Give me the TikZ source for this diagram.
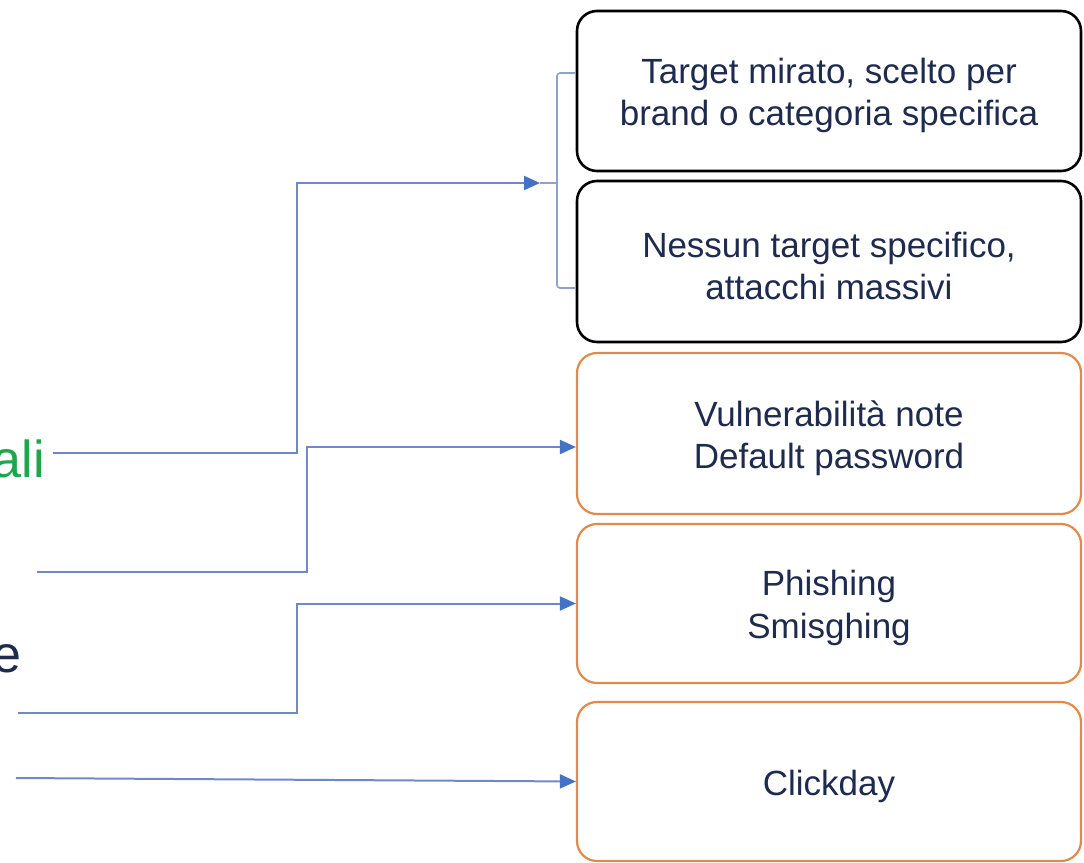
\documentclass[tikz,border=0pt]{standalone}
\usepackage{fontspec}
\setmainfont{Liberation Sans}
\usetikzlibrary{arrows.meta}
\definecolor{navy}{HTML}{1E2A4E}
\definecolor{linkblue}{HTML}{7088C4}
\definecolor{tipblue}{HTML}{4472C4}
\definecolor{boxorange}{HTML}{E08A4C}
\definecolor{leafgreen}{HTML}{1EA64C}
\definecolor{bracegray}{HTML}{8FA2C9}
\begin{document}
\begin{tikzpicture}[x=1pt,y=-1pt,
  card/.style={draw, rounded corners=20pt, minimum width=504pt, inner sep=0pt},
  darkcard/.style={card, draw=black, line width=2.6pt},
  orangecard/.style={card, draw=boxorange, line width=2.2pt},
  cardtext/.style={align=center, font=\fontsize{35}{42.5}\selectfont,
    text=navy, inner sep=0pt, yshift=-4.5pt},
  link/.style={draw=linkblue, line width=2pt,
    -{Triangle[length=16pt,width=14pt,color=tipblue]}},
  side/.style={inner sep=0pt, font=\fontsize{52}{60}\selectfont, anchor=base east}]
\useasboundingbox (0,0) rectangle (1084,862);
\clip (0,0) rectangle (1084,862);

% option boxes
\node[darkcard, minimum height=160pt] (b1) at (829,91) {};
\node[darkcard, minimum height=161pt] (b2) at (829,261.5) {};
\node[orangecard, minimum height=161pt] (b3) at (829,433.5) {};
\node[orangecard, minimum height=159pt] (b4) at (829,603.5) {};
\node[orangecard, minimum height=159pt] (b5) at (829,781.5) {};

% box captions
\node[cardtext] (t1) at (b1) {Target mirato, scelto per\\brand o categoria specifica};
\node[cardtext] (t2) at (b2) {Nessun target specifico,\\attacchi massivi};
\node[cardtext] (t3) at (b3) {Vulnerabilità note\\Default password};
\node[cardtext] (t4) at (b4) {Phishing\\Smisghing};
\node[cardtext] (t5) at (b5) {Clickday};

% labels on the left
\node[side, text=leafgreen] (l1) at (45,477) {ali};
\node[side, text=navy] (l2) at (22,672) {e};

% brace grouping the two black boxes
\coordinate (nib) at (540,183);
\draw[bracegray, line width=1.6pt, rounded corners=3pt]
  (575,73) -- (557,73) -- (557,288) -- (575,288);
\draw[bracegray, line width=1.6pt] (557,183) -- (nib);

% connectors
\coordinate (s1) at (53,453);
\coordinate (s2) at (37,572);
\coordinate (s3) at (18,713);
\coordinate (s4) at (16,778);
\draw[link] (s1) -| (297,183) -- (nib);
\draw[link] (s2) -| (307,447) -- ([yshift=-13.5pt]b3.west);
\draw[link] (s3) -| (297,603.5) -- (b4.west);
\draw[link] (s4) -- (b5.west);
\end{tikzpicture}
\end{document}
